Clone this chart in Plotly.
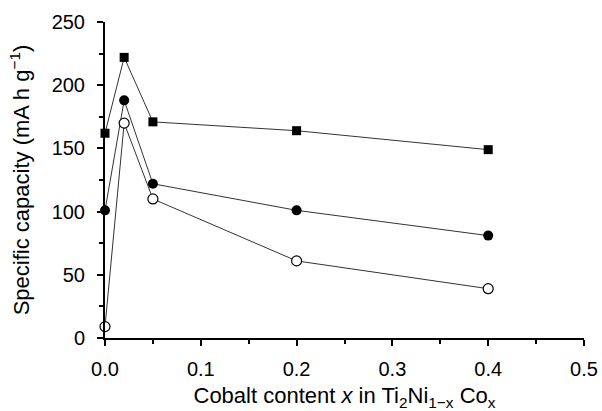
import plotly.graph_objects as go

# Cobalt content x in Ti2Ni(1-x)Co(x)
cobalt_x = [0.0, 0.02, 0.05, 0.2, 0.4]

# Specific capacity (mA h g^-1) for the three series
capacity_squares = [162, 222, 171, 164, 149]
capacity_filled = [101, 188, 122, 101, 81]
capacity_open = [9, 170, 110, 61, 39]

x_ticks = [0.0, 0.1, 0.2, 0.3, 0.4, 0.5]
x_tick_labels = ["0.0", "0.1", "0.2", "0.3", "0.4", "0.5"]
y_ticks = [0, 50, 100, 150, 200, 250]

FONT = "Liberation Sans, Arial, sans-serif"
line_style = dict(color="#333333", width=1)

fig = go.Figure()
fig.add_trace(go.Scatter(
    x=cobalt_x, y=capacity_squares, mode="lines+markers",
    line=line_style, cliponaxis=False,
    marker=dict(symbol="square", size=9, color="black"),
))
fig.add_trace(go.Scatter(
    x=cobalt_x, y=capacity_filled, mode="lines+markers",
    line=line_style, cliponaxis=False,
    marker=dict(symbol="circle", size=10, color="black"),
))
fig.add_trace(go.Scatter(
    x=cobalt_x, y=capacity_open, mode="lines+markers",
    line=line_style, cliponaxis=False,
    marker=dict(symbol="circle", size=10, color="white",
                line=dict(color="black", width=1.2)),
))

fig.update_layout(
    width=602, height=411,
    margin=dict(l=105, r=18, t=22, b=73),
    paper_bgcolor="white", plot_bgcolor="white",
    showlegend=False,
    font=dict(family=FONT, color="black", size=20),
    xaxis=dict(
        range=[0, 0.5], tickvals=x_ticks, ticktext=x_tick_labels,
        automargin=False,
        showgrid=False, zeroline=False,
        showline=True, linecolor="black", linewidth=2,
        ticks="outside", ticklen=6, tickwidth=2, tickcolor="black",
        minor=dict(dtick=0.05, ticks="outside", ticklen=4, tickwidth=2, tickcolor="black"),
        tickfont=dict(size=20),
        ticklabelstandoff=6,
        title=dict(
            text="Cobalt content <i>x</i> in Ti<sub>2</sub>Ni<sub>1\u2212x</sub> Co<sub>x</sub>",
            font=dict(size=22), standoff=9),
    ),
    yaxis=dict(
        range=[0, 250], tickvals=y_ticks,
        automargin=False,
        showgrid=False, zeroline=False,
        showline=True, linecolor="black", linewidth=2,
        ticks="outside", ticklen=6, tickwidth=2, tickcolor="black",
        minor=dict(dtick=25, ticks="outside", ticklen=4, tickwidth=2, tickcolor="black"),
        tickfont=dict(size=20),
        ticklabelstandoff=8,
        title=dict(text="Specific capacity (mA h g<sup>\u22121</sup>)",
                   font=dict(size=22), standoff=16),
    ),
)

fig.write_html("out.html")
